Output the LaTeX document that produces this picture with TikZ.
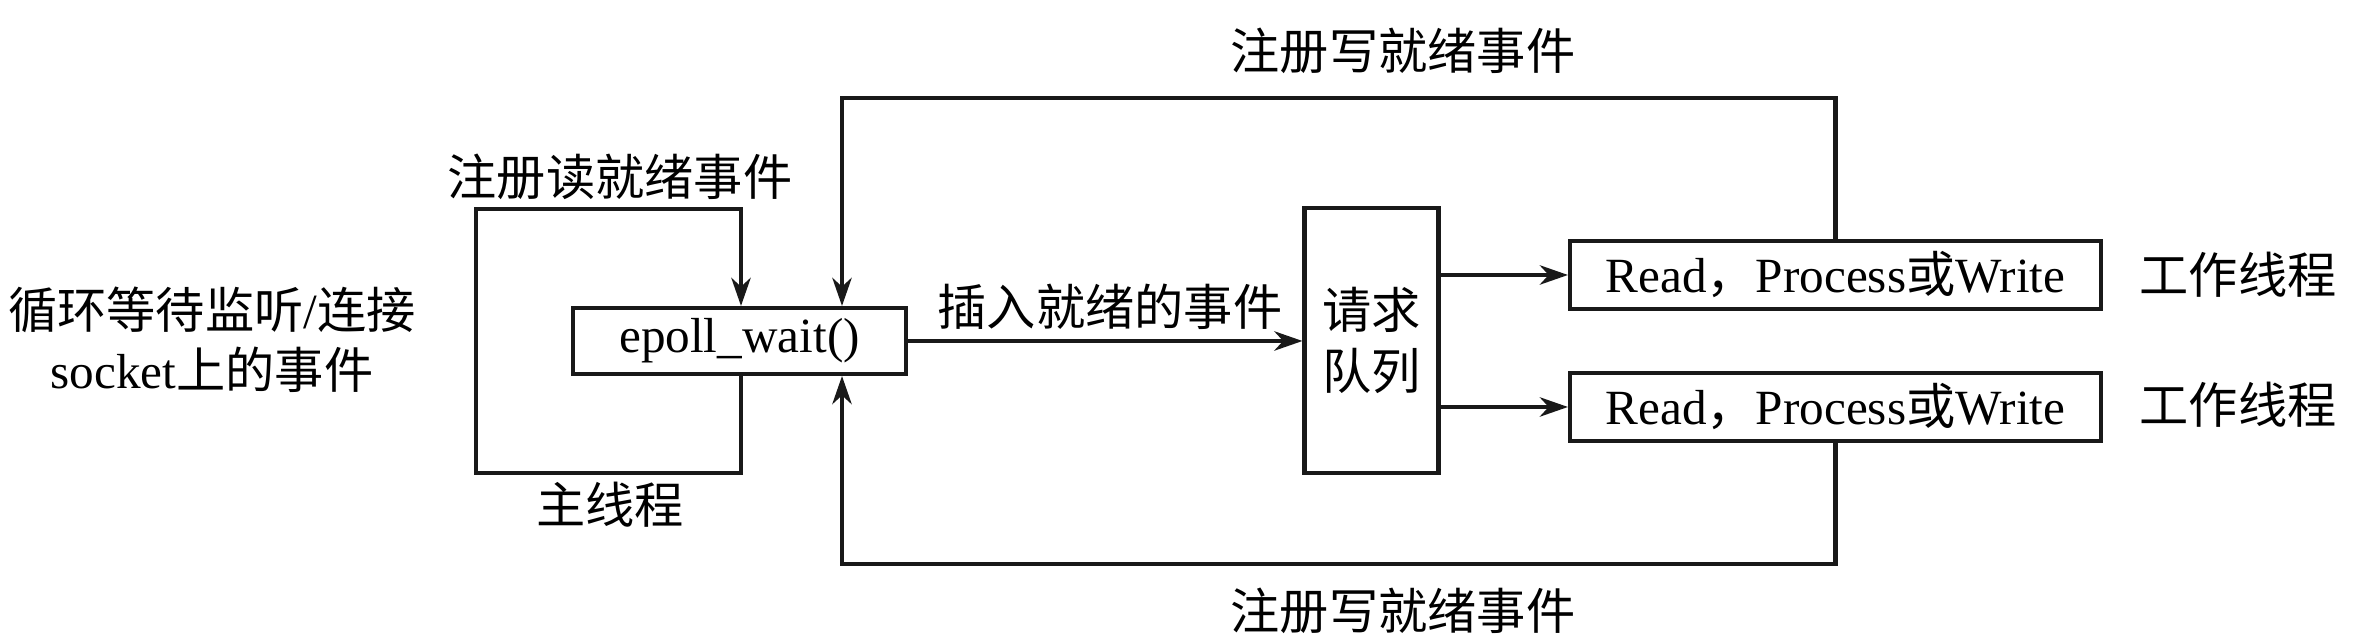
\documentclass[tikz,border=0pt]{standalone}
\usepackage{fontspec}
\setmainfont{Liberation Serif}
\newfontfamily\cjk{Noto Sans CJK SC}
\usetikzlibrary{arrows.meta,calc}
\tikzset{
  ln/.style={line width=1.15pt, draw=black!90},
  arr/.style={ln, -{Stealth[length=8pt, width=5.5pt, inset=2.5pt]}},
  box/.style={ln, fill=white, inner sep=0pt, font=\fontsize{14}{17}\selectfont},
  lbl/.style={inner sep=0pt, font=\fontsize{14}{17}\selectfont\cjk, align=center},
}
\begin{document}
\begin{tikzpicture}
\useasboundingbox (0,0) rectangle (23.6,-6.42);
% boxes
\node[box, minimum width=3.33cm, minimum height=0.66cm] (ep) at (7.395,-3.41) {epoll\_wait()};
\node[box, minimum width=1.34cm, minimum height=2.65cm, align=center, font=\fontsize{14}{17.6}\selectfont\cjk] (q) at (13.715,-3.405) {请求\\队列};
\node[box, minimum width=5.31cm, minimum height=0.68cm] (rw1) at (18.355,-2.75) {Read{\cjk ，}Process{\cjk 或}Write};
\node[box, minimum width=5.31cm, minimum height=0.68cm] (rw2) at (18.355,-4.07) {Read{\cjk ，}Process{\cjk 或}Write};
% coordinates of loop corners
\coordinate (la) at (7.41,-2.09);
\coordinate (lb) at (4.76,-4.73);
\coordinate (tl) at (8.42,-0.98);
\coordinate (bl) at (8.42,-5.64);
% main thread loop
\draw[arr] (la |- ep.south) -- (la |- lb) -- (lb) -- (lb |- la) -- (la) -- (la |- ep.north);
% big loops
\draw[arr] (rw1.north) |- (tl) -- (tl |- ep.north);
\draw[arr] (rw2.south) |- (bl) -- (bl |- ep.south);
% arrows
\draw[arr] (ep.east) -- (ep.east -| q.west);
\draw[arr] (rw1.west -| q.east) -- (rw1.west);
\draw[arr] (rw2.west -| q.east) -- (rw2.west);
% labels
\node[lbl] (t1) at (14.03,-0.51) {注册写就绪事件};
\node[lbl] (t2) at (14.03,-6.11) {注册写就绪事件};
\node[lbl] (t3) at (6.20,-1.77) {注册读就绪事件};
\node[lbl] (t4) at (6.10,-5.05) {主线程};
\node[lbl] (t5) at (11.10,-3.07) {插入就绪的事件};
\node[lbl, font=\fontsize{14}{17}\selectfont] (t6) at (2.12,-3.40) {{\cjk 循环等待监听}/{\cjk 连接}\\socket{\cjk 上的事件}};
\node[lbl] (w1) at (22.38,-2.75) {工作线程};
\node[lbl] (w2) at (22.38,-4.05) {工作线程};
\end{tikzpicture}
\end{document}
